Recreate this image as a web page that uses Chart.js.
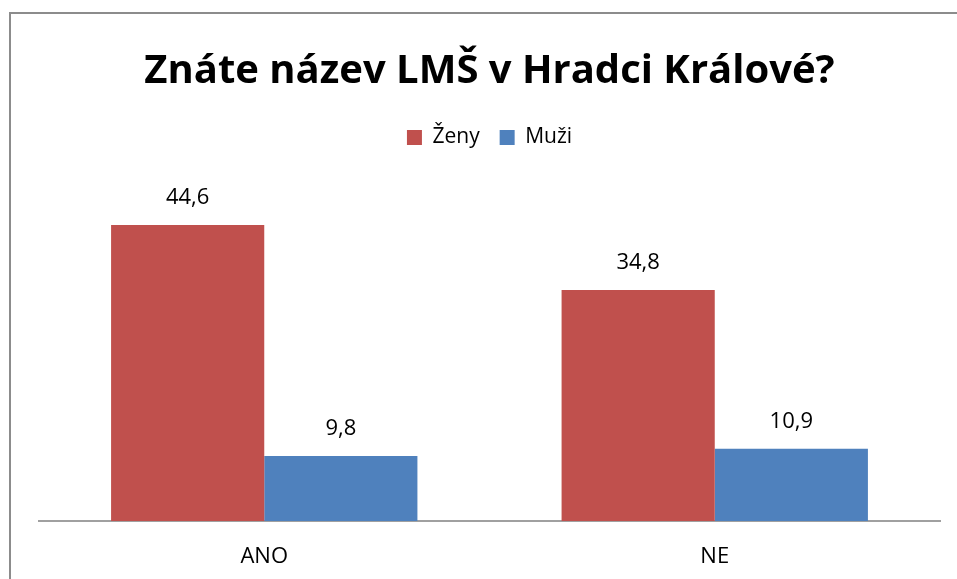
<!DOCTYPE html>
<html>
<head>
<meta charset="utf-8">
<script src="https://cdn.jsdelivr.net/npm/chart.js@4"></script>
<style>
  html, body { margin: 0; padding: 0; background: #fff; }
  #wrap { position: relative; width: 957px; height: 579px; }
  #frame { position: absolute; left: 9px; top: 12px; right: 0; bottom: 0;
           border-left: 2px solid #8c8c8c; border-top: 2px solid #8c8c8c; }
  canvas { position: absolute; left: 0; top: 0; }
</style>
</head>
<body>
<div id="wrap">
  <div id="frame"></div>
  <canvas id="c" width="957" height="579"></canvas>
</div>
<script>
// data
const categories = ['ANO', 'NE'];
const zeny = [44.6, 34.8];
const muzi = [9.8, 10.9];
const seriesNames = ['Ženy', 'Muži'];

const FONT = '"Open Sans", "Liberation Sans", sans-serif';

// draw value labels above bars (comma decimal)
const valueLabels = {
  id: 'valueLabels',
  afterDatasetsDraw(chart) {
    const ctx = chart.ctx;
    ctx.save();
    ctx.font = '22px ' + FONT;
    ctx.fillStyle = '#000';
    ctx.textAlign = 'center';
    ctx.textBaseline = 'bottom';
    chart.data.datasets.forEach((ds, i) => {
      chart.getDatasetMeta(i).data.forEach((bar, j) => {
        const txt = ds.data[j].toFixed(1).replace('.', ',');
        ctx.fillText(txt, bar.x, bar.y - 16);
      });
    });
    ctx.restore();
  }
};

Chart.defaults.font.family = FONT;
Chart.defaults.color = '#000';

new Chart(document.getElementById('c'), {
  type: 'bar',
  data: {
    labels: categories,
    datasets: [
      { label: seriesNames[0], data: zeny, backgroundColor: '#C0504D' },
      { label: seriesNames[1], data: muzi, backgroundColor: '#4F81BD' }
    ]
  },
  options: {
    responsive: false,
    animation: false,
    layout: { padding: { left: 39, right: 17, top: 48, bottom: 0 } },
    datasets: { bar: { categoryPercentage: 0.68, barPercentage: 1.0 } },
    plugins: {
      title: {
        display: true,
        text: 'Znáte název LMŠ v Hradci Králové?',
        font: { size: 40, weight: 'bold', family: FONT },
        color: '#000',
        padding: { top: 0, bottom: 11 }
      },
      legend: {
        display: true,
        labels: { boxWidth: 15, boxHeight: 15, font: { size: 21 }, padding: 20 }
      },
      tooltip: { enabled: false }
    },
    scales: {
      x: {
        grid: { display: false },
        border: { display: true, color: '#a0a0a0', width: 2 },
        ticks: { font: { size: 22 }, padding: 15 },
        afterFit(scale) { scale.height = 58; }
      },
      y: {
        display: false,
        min: 0,
        max: 54.7
      }
    }
  },
  plugins: [valueLabels]
});
</script>
</body>
</html>
